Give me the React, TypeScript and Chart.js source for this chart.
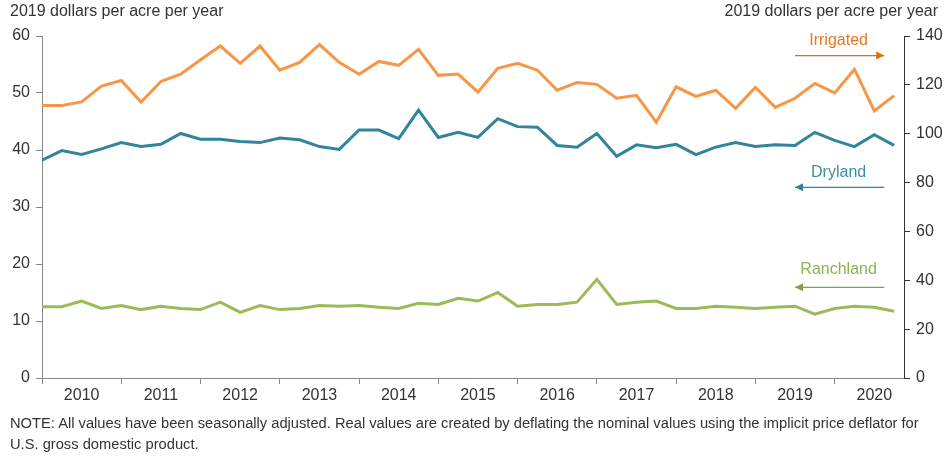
import React, { useEffect, useRef } from "react";
import { Chart, registerables } from "chart.js";

Chart.register(...registerables);

const years = ["2010", "2011", "2012", "2013", "2014", "2015", "2016", "2017", "2018", "2019", "2020"];

// Quarterly values, 2010 Q1 – 2020 Q4 (2019 dollars per acre per year)
const irrigated = [
  111.6, 111.6, 113.0, 119.5, 121.8, 113.0, 121.4, 124.4, 130.3, 135.9, 128.8, 135.9,
  126.0, 129.2, 136.5, 129.2, 124.3, 129.6, 128.0, 134.5, 123.9, 124.4, 117.0, 126.8,
  128.8, 126.0, 117.8, 121.0, 120.2, 114.5, 115.7, 104.7, 119.2, 115.3, 117.8, 110.4,
  119.0, 110.8, 114.5, 120.6, 116.7, 126.4, 109.3, 115.6,
];
const dryland = [
  38.2, 39.9, 39.2, 40.2, 41.3, 40.6, 41.0, 42.9, 41.9, 41.9, 41.5, 41.3,
  42.1, 41.8, 40.6, 40.1, 43.5, 43.5, 42.0, 47.0, 42.2, 43.1, 42.2, 45.5,
  44.1, 44.0, 40.8, 40.5, 42.9, 38.9, 40.9, 40.4, 41.0, 39.2, 40.5, 41.3,
  40.6, 40.9, 40.8, 43.1, 41.7, 40.6, 42.7, 40.8,
];
const ranchland = [
  12.5, 12.5, 13.5, 12.2, 12.7, 12.0, 12.6, 12.2, 12.0, 13.3, 11.5, 12.7,
  12.0, 12.2, 12.7, 12.6, 12.7, 12.4, 12.2, 13.1, 12.9, 14.0, 13.5, 15.0,
  12.6, 12.9, 12.9, 13.3, 17.3, 12.9, 13.3, 13.5, 12.2, 12.2, 12.6, 12.4,
  12.2, 12.4, 12.6, 11.2, 12.2, 12.6, 12.4, 11.7,
];

const axisTitle = "2019 dollars per acre per year";
const noteLine1 =
  "NOTE: All values have been seasonally adjusted. Real values are created by deflating the nominal values using the implicit price deflator for";
const noteLine2 = "U.S. gross domestic product.";

const FONT = '"Liberation Sans", Arial, sans-serif';
const TEXT = "#333333";

const C_IRR = "#F79646";
const C_DRY = "#31849B";
const C_RAN = "#9BBB59";

const toPoints = (arr: number[]) => arr.map((v, i) => ({ x: i, y: v }));

function arrow(ctx: CanvasRenderingContext2D, x1: number, x2: number, y: number, dir: number, color: string) {
  ctx.save();
  ctx.strokeStyle = color;
  ctx.fillStyle = color;
  ctx.lineWidth = 1.2;
  ctx.beginPath();
  ctx.moveTo(x1, y);
  ctx.lineTo(x2, y);
  ctx.stroke();
  const tip = dir > 0 ? x2 : x1;
  ctx.beginPath();
  ctx.moveTo(tip, y);
  ctx.lineTo(tip - dir * 8, y - 4);
  ctx.lineTo(tip - dir * 8, y + 4);
  ctx.closePath();
  ctx.fill();
  ctx.restore();
}

const overlay = {
  id: "overlay",
  afterDraw(chart: any) {
    const ctx: CanvasRenderingContext2D = chart.ctx;
    const xs = chart.scales.x;
    const yl = chart.scales.y;
    const yr = chart.scales.y1;
    ctx.save();
    ctx.font = `16px ${FONT}`;
    ctx.fillStyle = TEXT;
    ctx.textBaseline = "middle";
    ctx.textAlign = "left";
    ctx.fillText(axisTitle, 10, 12);
    ctx.textAlign = "right";
    ctx.fillText(axisTitle, 938, 12);

    ctx.textAlign = "center";
    const xa = xs.getPixelForValue(38);
    const xb = xs.getPixelForValue(42.5);
    const xc = xs.getPixelForValue(40.2);

    ctx.fillStyle = "#E87722";
    ctx.fillText("Irrigated", xc, yr.getPixelForValue(138.2));
    arrow(ctx, xa, xb, yr.getPixelForValue(132), 1, "#E46C0A");

    ctx.fillStyle = "#3A8FA3";
    ctx.fillText("Dryland", xc, yl.getPixelForValue(35.95));
    arrow(ctx, xa, xb, yl.getPixelForValue(33.45), -1, "#31849B");

    ctx.fillStyle = "#8DB255";
    ctx.fillText("Ranchland", xc, yl.getPixelForValue(19));
    arrow(ctx, xa, xb, yl.getPixelForValue(15.9), -1, "#7EA342");
    ctx.restore();
  },
};

export default function App() {
  const ref = useRef<HTMLCanvasElement>(null);

  useEffect(() => {
    document.body.style.margin = "0";
    if (!ref.current) return;
    const chart = new Chart(ref.current, {
      type: "line",
      data: {
        datasets: [
          { label: "Irrigated", data: toPoints(irrigated), yAxisID: "y1", borderColor: C_IRR, borderWidth: 3, pointRadius: 0, tension: 0 },
          { label: "Dryland", data: toPoints(dryland), yAxisID: "y", borderColor: C_DRY, borderWidth: 3, pointRadius: 0, tension: 0 },
          { label: "Ranchland", data: toPoints(ranchland), yAxisID: "y", borderColor: C_RAN, borderWidth: 3, pointRadius: 0, tension: 0 },
        ],
      },
      options: {
        animation: false,
        responsive: true,
        maintainAspectRatio: false,
        layout: { padding: { top: 36, left: 0, right: 0, bottom: 0 } },
        plugins: { legend: { display: false }, tooltip: { enabled: false } },
        scales: {
          x: {
            type: "linear",
            min: 0,
            max: 43.5,
            afterBuildTicks: (scale: any) => {
              const t = [];
              for (let v = 0; v <= 42; v += 2) t.push({ value: v });
              scale.ticks = t;
            },
            afterFit: (scale: any) => {
              scale.height = 78;
            },
            ticks: {
              autoSkip: false,
              maxRotation: 0,
              padding: 2,
              color: TEXT,
              font: { family: FONT, size: 16 },
              callback: (v: any) => (v % 4 === 2 ? years[(v - 2) / 4] : ""),
            },
            grid: {
              drawOnChartArea: false,
              drawTicks: true,
              tickLength: 6,
              tickColor: (c: any) => (c.tick && c.tick.value % 4 === 0 ? "#888888" : "rgba(0,0,0,0)"),
            },
            border: { color: "#888888", width: 1 },
          },
          y: {
            position: "left",
            min: 0,
            max: 60,
            ticks: { stepSize: 10, color: TEXT, padding: 6, font: { family: FONT, size: 16 } },
            grid: { drawOnChartArea: false, tickLength: 6, tickColor: "#888888" },
            border: { color: "#888888", width: 1 },
            afterFit: (scale: any) => {
              scale.width = 42;
            },
          },
          y1: {
            position: "right",
            min: 0,
            max: 140,
            ticks: { stepSize: 20, color: TEXT, padding: 6, font: { family: FONT, size: 16 } },
            grid: { drawOnChartArea: false, tickLength: 6, tickColor: "#333333" },
            border: { color: "#333333", width: 1 },
            afterFit: (scale: any) => {
              scale.width = 45;
            },
          },
        },
      },
      plugins: [overlay],
    } as any);
    return () => chart.destroy();
  }, []);

  return (
    <div style={{ position: "relative", width: 949, height: 456, background: "#fff" }}>
      <canvas ref={ref} />
      <div
        style={{
          position: "absolute",
          left: 10,
          top: 413,
          fontFamily: FONT,
          fontSize: 14.7,
          lineHeight: "21px",
          color: TEXT,
          whiteSpace: "nowrap",
        }}
      >
        {noteLine1}
        <br />
        {noteLine2}
      </div>
    </div>
  );
}
